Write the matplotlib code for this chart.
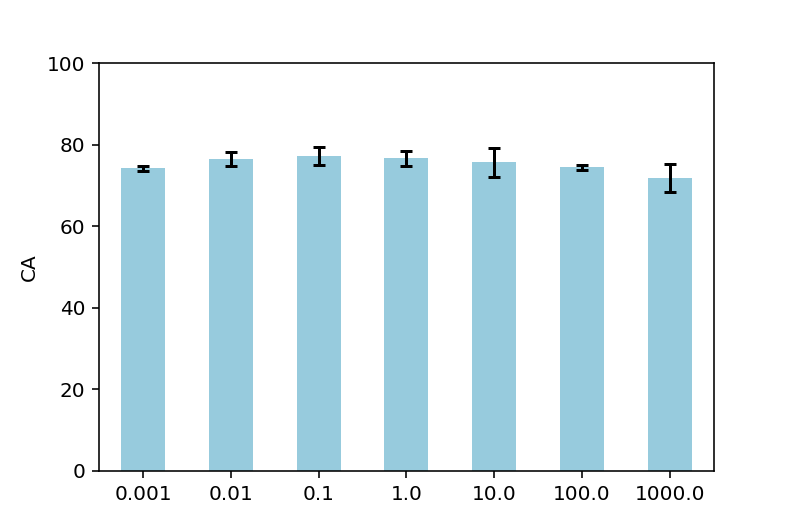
import matplotlib
matplotlib.use("Agg")
import matplotlib.pyplot as plt
import numpy as np

categories = ["0.001", "0.01", "0.1", "1.0", "10.0", "100.0", "1000.0"]
values = [74.3, 76.6, 77.3, 76.7, 75.8, 74.5, 71.9]
errors = [0.65, 1.7, 2.2, 1.8, 3.55, 0.65, 3.35]

DPI = 144
fig, ax = plt.subplots(figsize=(793 / DPI, 529 / DPI), dpi=DPI)
x = np.arange(len(categories))
ax.bar(x, values, width=0.5, color="#97cbdd", yerr=errors, capsize=3,
       error_kw=dict(ecolor="black", elinewidth=1.5, capthick=1.5))
ax.set_xticks(x)
ax.set_xticklabels(categories, rotation=0)
ax.set_xlim(-0.5, len(categories) - 0.5)
ax.set_ylim(0, 100)
ax.set_ylabel("CA")
fig.savefig("out.png", dpi=DPI)
